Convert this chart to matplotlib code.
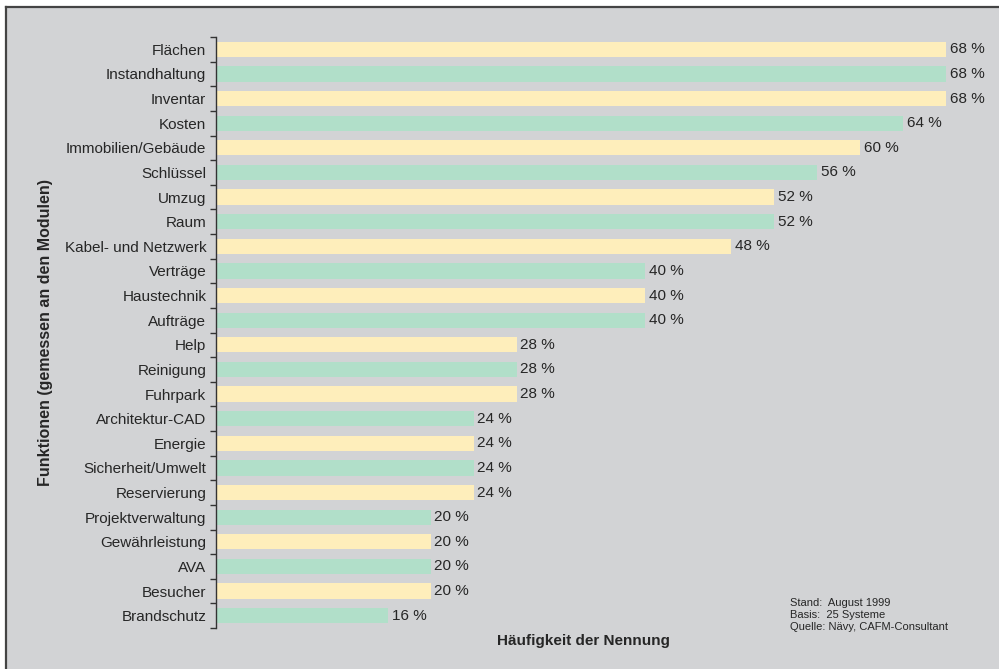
import matplotlib
matplotlib.use('Agg')
import matplotlib.pyplot as plt
from matplotlib.patches import Rectangle
from matplotlib.lines import Line2D

# Daten (von oben nach unten)
funktionen = ["Flächen", "Instandhaltung", "Inventar", "Kosten", "Immobilien/Gebäude",
              "Schlüssel", "Umzug", "Raum", "Kabel- und Netzwerk", "Verträge",
              "Haustechnik", "Aufträge", "Help", "Reinigung", "Fuhrpark",
              "Architektur-CAD", "Energie", "Sicherheit/Umwelt", "Reservierung",
              "Projektverwaltung", "Gewährleistung", "AVA", "Besucher", "Brandschutz"]
anteile = [68, 68, 68, 64, 60, 56, 52, 52, 48, 40, 40, 40, 28, 28, 28,
           24, 24, 24, 24, 20, 20, 20, 20, 16]
quelle_zeilen = ["Stand:  August 1999", "Basis:  25 Systeme",
                 "Quelle: Nävy, CAFM-Consultant"]

plt.rcParams['font.family'] = ['Liberation Sans', 'DejaVu Sans']
textfarbe = '#262626'
hintergrund = '#d2d3d5'
gelb = '#feeebb'
gruen = '#b1dfc9'

W, H = 999, 669
fig = plt.figure(figsize=(W / 100, H / 100), dpi=100)
fig.patch.set_facecolor('white')

# grauer Hintergrund mit Rahmen oben und links
fig.add_artist(Rectangle((6 / W, 0), 1, 1 - 7 / H, transform=fig.transFigure,
                         facecolor=hintergrund, edgecolor='none', zorder=-2))
fig.add_artist(Line2D([6 / W, 1], [1 - 7 / H, 1 - 7 / H], transform=fig.transFigure,
                      color='#444444', lw=1.6))
fig.add_artist(Line2D([6 / W, 6 / W], [0, 1 - 7 / H], transform=fig.transFigure,
                      color='#444444', lw=1.6))

# Achse: links bei x=216, oben y=37, unten y=628
links, oben, unten = 216, 37, 628
px_pro_prozent = (947 - 217) / 68
xmax = 72
ax = fig.add_axes([links / W, 1 - unten / H, xmax * px_pro_prozent / W, (unten - oben) / H])
ax.set_facecolor('none')

n = len(funktionen)
ypos = list(range(n))
farben = [gelb if i % 2 == 0 else gruen for i in range(n)]
ax.barh(ypos, anteile, height=0.62, color=farben, edgecolor='none')

for y, v in zip(ypos, anteile):
    ax.text(v + 0.35, y, f"{v} %", va='center', ha='left', fontsize=11, color=textfarbe)

ax.set_ylim(n - 0.5, -0.5)
ax.set_xlim(0, xmax)
ax.set_yticks(ypos)
ax.set_yticklabels(funktionen, fontsize=11, color=textfarbe)
ax.tick_params(axis='y', which='major', length=0, pad=7)
ax.set_yticks([i - 0.5 for i in range(n + 1)], minor=True)
ax.tick_params(axis='y', which='minor', length=4, width=1, color='#333333', direction='out')
ax.set_xticks([])
for s in ['top', 'right', 'bottom']:
    ax.spines[s].set_visible(False)
ax.spines['left'].set_color('#333333')
ax.spines['left'].set_linewidth(1)

fig.text(583 / W, 1 - 641 / H, "Häufigkeit der Nennung", ha='center', va='center',
         fontsize=11, fontweight='bold', color=textfarbe)
fig.text(46 / W, 1 - 333 / H, "Funktionen (gemessen an den Modulen)", ha='center',
         va='center', rotation=90, fontsize=11.5, fontweight='bold', color=textfarbe)

for i, zeile in enumerate(quelle_zeilen):
    fig.text(790 / W, 1 - (603 + 12 * i) / H, zeile, ha='left', va='center',
             fontsize=8, color=textfarbe)

plt.savefig('out.png', dpi=100, facecolor=fig.get_facecolor())
plt.close(fig)
